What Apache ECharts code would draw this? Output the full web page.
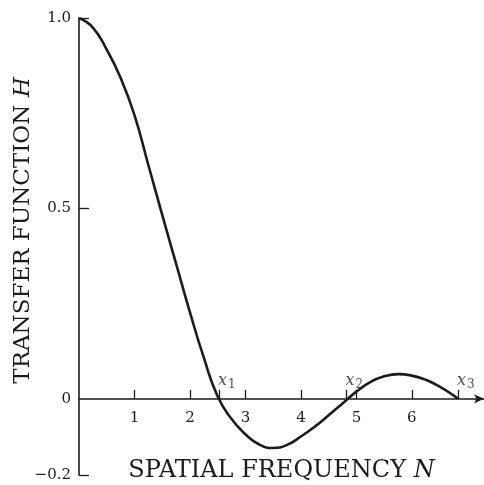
<!DOCTYPE html>
<html>
<head>
<meta charset="utf-8">
<script src="https://cdn.jsdelivr.net/npm/echarts@6/dist/echarts.min.js"></script>
<style>html,body{margin:0;padding:0;background:#fff}#c{width:484px;height:485px}</style>
</head>
<body>
<div id="c"></div>
<script>
// Spatial frequency N and transfer function H
const freqN = [0,0.25,0.5,0.75,1,1.25,1.5,1.75,2,2.25,2.5,2.75,3,3.25,3.5,3.75,4,4.25,4.5,4.75,5,5.25,5.5,5.75,6,6.25,6.5,6.75,6.83];
const transferH = [1.0,0.975,0.917,0.843,0.745,0.614,0.483,0.355,0.227,0.108,0.006,-0.053,-0.093,-0.12,-0.129,-0.121,-0.099,-0.073,-0.043,-0.012,0.019,0.044,0.059,0.065,0.061,0.05,0.032,0.009,0.0];
// zero crossings x1, x2, x3
const zeroN = [2.52, 4.82, 6.83];
const zeroNames = ['1', '2', '3'];
// tick labels
const xTickValues = [1, 2, 3, 4, 5, 6];
const yTickValues = [1.0, 0.5, 0, -0.2];
const yTickMarks = [1.0, 0.5, -0.2];

const FONT = 'DejaVu Serif';
const INK = '#1c1c1c';

const chart = echarts.init(document.getElementById('c'), null, {renderer: 'canvas'});
chart.setOption({
  backgroundColor: '#fff',
  animation: false,
  grid: {left: 79, right: 0, top: 18, bottom: 10, containLabel: false, outerBoundsMode: 'none'},
  xAxis: {
    type: 'value', min: 0, max: 7.3,
    axisLine: {onZero: true, lineStyle: {color: INK, width: 1.6}, symbol: ['none', 'arrow'], symbolSize: [7, 10]},
    axisTick: {inside: true, length: 9, lineStyle: {color: INK, width: 1.3}, customValues: xTickValues.concat(zeroN)},
    axisLabel: {customValues: xTickValues, margin: -64, fontFamily: FONT, fontSize: 15, color: INK},
    splitLine: {show: false},
    name: '{t|SPATIAL FREQUENCY }{i|N}',
    nameLocation: 'middle', nameGap: -16, nameMoveOverlap: false,
    nameTextStyle: {rich: {t: {fontFamily: FONT, fontSize: 24, color: INK}, i: {fontFamily: FONT, fontSize: 24, fontStyle: 'italic', color: INK}}}
  },
  yAxis: {
    type: 'value', min: -0.2, max: 1.0,
    axisLine: {onZero: true, lineStyle: {color: INK, width: 1.6}},
    axisTick: {inside: true, length: 10, lineStyle: {color: INK, width: 1.3}, customValues: yTickMarks},
    axisLabel: {customValues: yTickValues, margin: 8, fontFamily: FONT, fontSize: 15, color: INK,
      formatter: v => v === 0 ? '0' : (v < 0 ? '\u2212' + Math.abs(v).toFixed(1) : v.toFixed(1))},
    splitLine: {show: false},
    name: '{t|TRANSFER FUNCTION }{i|H}',
    nameLocation: 'middle', nameGap: 44, nameRotate: 90, nameMoveOverlap: false,
    nameTextStyle: {padding: [0, 0, 0, 32], rich: {t: {fontFamily: FONT, fontSize: 23, color: INK}, i: {fontFamily: FONT, fontSize: 23, fontStyle: 'italic', color: INK}}}
  },
  series: [
    {
      type: 'line', smooth: 0.5, symbol: 'none',
      lineStyle: {color: INK, width: 2.6},
      data: freqN.map((n, i) => [n, transferH[i]])
    },
    {
      type: 'scatter', symbolSize: 0, silent: true,
      data: zeroN.map((n, i) => ({value: [n, 0], name: zeroNames[i]})),
      label: {
        show: true, position: 'top', distance: 8, offset: [8, 0],
        formatter: p => '{x|x}{s|' + p.name + '}',
        rich: {
          x: {fontFamily: FONT, fontSize: 16, fontStyle: 'italic', color: INK},
          s: {fontFamily: FONT, fontSize: 12, color: INK, padding: [8, 0, 0, 1]}
        }
      }
    }
  ]
});
</script>
</body>
</html>
